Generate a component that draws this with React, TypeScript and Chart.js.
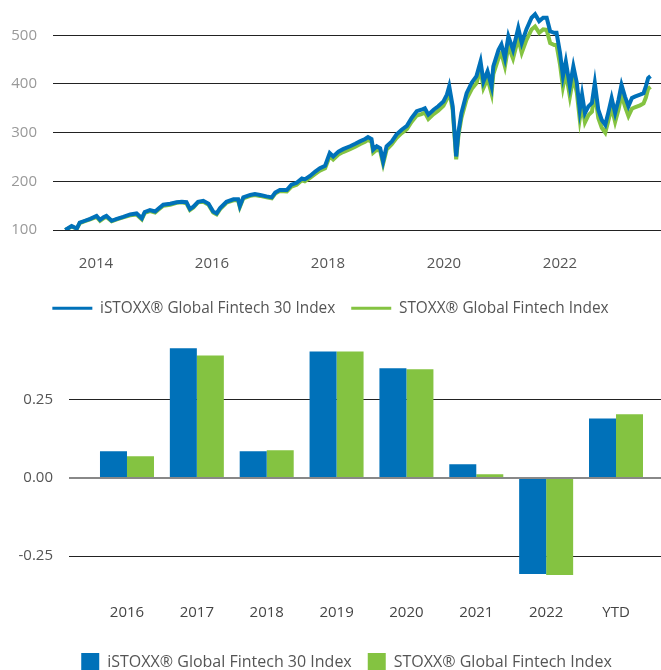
import React, { useEffect, useRef } from "react";
import { Chart, registerables } from "chart.js";

Chart.register(...registerables);

const BLUE = "#0071b9";
const GREEN = "#84c341";
const FONT_FAMILY = "'Open Sans', 'Noto Sans', sans-serif";

const SERIES_A = "iSTOXX® Global Fintech 30 Index";
const SERIES_B = "STOXX® Global Fintech Index";

// ---- Performance line chart (decimal years) ----
const lineDates = [
  2013.47, 2013.58, 2013.67, 2013.72, 2013.81, 2013.9, 2014.01, 2014.07, 2014.13, 2014.18,
  2014.27, 2014.36, 2014.47, 2014.59, 2014.7, 2014.79, 2014.84, 2014.93, 2015.02, 2015.07,
  2015.16, 2015.28, 2015.39, 2015.48, 2015.56, 2015.62, 2015.68, 2015.76, 2015.85, 2015.94,
  2016.02, 2016.08, 2016.14, 2016.25, 2016.37, 2016.45, 2016.48, 2016.54, 2016.66, 2016.74,
  2016.83, 2016.94, 2017.03, 2017.09, 2017.17, 2017.29, 2017.37, 2017.46, 2017.55, 2017.6,
  2017.69, 2017.78, 2017.86, 2017.95, 2018.03, 2018.09, 2018.18, 2018.26, 2018.38, 2018.47,
  2018.55, 2018.64, 2018.69, 2018.75, 2018.78, 2018.84, 2018.9, 2018.95, 2019.01, 2019.1,
  2019.18, 2019.27, 2019.36, 2019.44, 2019.53, 2019.61, 2019.67, 2019.73, 2019.82, 2019.9,
  2019.99, 2020.05, 2020.09, 2020.15, 2020.21, 2020.25, 2020.3, 2020.39, 2020.48, 2020.56,
  2020.63, 2020.68, 2020.75, 2020.82, 2020.85, 2020.94, 2020.99, 2021.05, 2021.11, 2021.19,
  2021.28, 2021.34, 2021.42, 2021.51, 2021.57, 2021.64, 2021.71, 2021.77, 2021.83, 2021.9,
  2021.94, 2022.0, 2022.05, 2022.1, 2022.17, 2022.23, 2022.29, 2022.34, 2022.38, 2022.43,
  2022.49, 2022.55, 2022.6, 2022.66, 2022.72, 2022.78, 2022.83, 2022.89, 2022.95, 2023.01,
  2023.06, 2023.12, 2023.18, 2023.24, 2023.29, 2023.38, 2023.44, 2023.48, 2023.52, 2023.56,
];

const fintech30Line = [
  100, 108, 103, 115, 119, 123, 129, 121, 126, 129,
  119, 123, 127, 132, 134, 124, 137, 141, 138, 143,
  152, 154, 157, 158, 157, 143, 148, 158, 160, 154,
  138, 134, 145, 158, 163, 163, 149, 167, 172, 174,
  172, 169, 167, 177, 182, 182, 193, 197, 206, 204,
  211, 220, 227, 232, 258, 251, 261, 266, 272, 277,
  282, 287, 291, 287, 265, 272, 268, 241, 272, 282,
  296, 306, 314, 330, 344, 347, 350, 337, 347, 354,
  364, 378, 395, 354, 251, 302, 340, 381, 403, 416,
  446, 405, 426, 395, 436, 470, 481, 453, 498, 470,
  515, 484, 512, 536, 543, 529, 536, 536, 508, 505,
  505, 464, 416, 446, 395, 436, 402, 347, 378, 340,
  354, 361, 402, 347, 326, 316, 340, 371, 340, 368,
  398, 374, 354, 371, 374, 378, 381, 395, 412, 416,
];

const fintechLine = [
  100, 107, 103, 114, 118, 122, 127, 119, 124, 127,
  118, 122, 126, 130, 132, 122, 135, 139, 136, 141,
  150, 152, 156, 157, 155, 141, 146, 157, 158, 152,
  136, 132, 143, 156, 161, 161, 147, 165, 170, 172,
  170, 167, 165, 175, 180, 179, 189, 193, 202, 200,
  207, 215, 222, 227, 252, 245, 255, 260, 266, 271,
  276, 281, 285, 281, 259, 265, 262, 236, 265, 276,
  289, 299, 307, 322, 335, 338, 341, 328, 338, 345,
  355, 369, 386, 346, 245, 295, 330, 369, 390, 402,
  430, 392, 411, 380, 420, 453, 463, 436, 478, 452,
  494, 464, 490, 512, 518, 505, 512, 511, 484, 480,
  480, 440, 394, 424, 374, 414, 382, 328, 359, 321,
  336, 343, 383, 330, 310, 300, 323, 352, 322, 348,
  378, 354, 334, 349, 352, 356, 360, 372, 390, 394,
];

const lineYTicks = [100, 200, 300, 400, 500];
const lineXTicks = [2014, 2016, 2018, 2020, 2022];

// ---- Annual returns bar chart ----
const barCategories = ["2016", "2017", "2018", "2019", "2020", "2021", "2022", "YTD"];
const fintech30Bars = [0.085, 0.414, 0.085, 0.404, 0.35, 0.044, -0.307, 0.19];
const fintechBars = [0.069, 0.391, 0.088, 0.404, 0.347, 0.012, -0.31, 0.203];
const barYTicks = [-0.25, 0, 0.25];

const tickFont = { family: FONT_FAMILY, size: 15 };
const lineLegendFont = { family: FONT_FAMILY, size: 15.4 };
const barLegendFont = { family: FONT_FAMILY, size: 16 };

function noBorderLegend(chart: any) {
  return Chart.defaults.plugins.legend.labels
    .generateLabels(chart)
    .map((l: any) => ({ ...l, lineWidth: 0 }));
}

function zeroPad(s: any) {
  s.paddingTop = 0;
  s.paddingBottom = 0;
  s.paddingLeft = 0;
  s.paddingRight = 0;
}

function LineChart() {
  const ref = useRef<HTMLCanvasElement | null>(null);
  useEffect(() => {
    if (!ref.current) return;
    const chart = new Chart(ref.current, {
      type: "line",
      data: {
        datasets: [
          {
            label: SERIES_A,
            data: lineDates.map((t, i) => ({ x: t, y: fintech30Line[i] })),
            borderColor: BLUE,
            backgroundColor: BLUE,
            borderWidth: 4,
            pointRadius: 0,
            tension: 0,
          },
          {
            label: SERIES_B,
            data: lineDates.map((t, i) => ({ x: t, y: fintechLine[i] })),
            borderColor: GREEN,
            backgroundColor: GREEN,
            borderWidth: 4,
            pointRadius: 0,
            tension: 0,
          },
        ],
      },
      options: {
        animation: false,
        responsive: false,
        layout: { padding: { top: 7, right: 0, bottom: 4, left: 0 } },
        scales: {
          x: {
            type: "linear",
            offset: false,
            min: 2013.259,
            max: 2023.741,
            grid: { display: false, drawTicks: false, offset: false },
            border: { display: false },
            afterBuildTicks: (s: any) => {
              s.ticks = lineXTicks.map((v) => ({ value: v }));
            },
            afterFit: (s: any) => {
              s.height = 54.6;
              zeroPad(s);
            },
            ticks: {
              padding: 25,
              font: tickFont,
              color: "#555",
              maxRotation: 0,
              autoSkip: false,
              callback: (v: any) => String(v),
            },
          },
          y: {
            type: "linear",
            min: 100,
            max: 558,
            afterBuildTicks: (s: any) => {
              s.ticks = lineYTicks.map((v) => ({ value: v }));
            },
            afterFit: (s: any) => {
              s.width = 53;
              zeroPad(s);
            },
            grid: { color: "#222", lineWidth: 1, drawTicks: false },
            border: { display: false },
            ticks: { padding: 16, font: tickFont, color: "#999", callback: (v: any) => String(v) },
          },
        },
        plugins: {
          legend: {
            position: "bottom",
            labels: {
              boxWidth: 40,
              boxHeight: 3,
              padding: 16,
              font: lineLegendFont,
              color: "#555",
              generateLabels: noBorderLegend,
            },
          },
          tooltip: { enabled: false },
        },
      },
    });
    return () => chart.destroy();
  }, []);
  return <canvas ref={ref} width={661} height={330} style={{ display: "block" }} />;
}

function BarChart() {
  const ref = useRef<HTMLCanvasElement | null>(null);
  useEffect(() => {
    if (!ref.current) return;
    const chart = new Chart(ref.current, {
      type: "bar",
      data: {
        datasets: [
          {
            label: SERIES_A,
            data: fintech30Bars.map((v, i) => ({ x: i, y: v })),
            backgroundColor: BLUE,
            borderColor: BLUE,
            borderWidth: 0,
            barPercentage: 1,
            categoryPercentage: 0.773,
          },
          {
            label: SERIES_B,
            data: fintechBars.map((v, i) => ({ x: i, y: v })),
            backgroundColor: GREEN,
            borderColor: GREEN,
            borderWidth: 0,
            barPercentage: 1,
            categoryPercentage: 0.773,
          },
        ],
      },
      options: {
        animation: false,
        responsive: false,
        layout: { padding: { top: 7, right: 0, bottom: 1, left: 0 } },
        scales: {
          x: {
            type: "linear",
            offset: false,
            min: -0.83,
            max: 8.102,
            grid: { display: false, drawTicks: false, offset: false },
            border: { display: false },
            afterBuildTicks: (s: any) => {
              s.ticks = barCategories.map((_, i) => ({ value: i }));
            },
            afterFit: (s: any) => {
              s.height = 49.5;
              zeroPad(s);
            },
            ticks: {
              padding: 16,
              font: tickFont,
              color: "#444",
              maxRotation: 0,
              autoSkip: false,
              callback: (v: any) => barCategories[Math.round(v)] ?? "",
            },
          },
          y: {
            type: "linear",
            min: -0.35,
            max: 0.45,
            afterBuildTicks: (s: any) => {
              s.ticks = barYTicks.map((v) => ({ value: v }));
            },
            afterFit: (s: any) => {
              s.width = 69;
              zeroPad(s);
            },
            grid: {
              color: (c: any) => (c.tick && c.tick.value === 0 ? "#888" : "#222"),
              lineWidth: (c: any) => (c.tick && c.tick.value === 0 ? 2 : 1),
              drawTicks: false,
            },
            border: { display: false },
            ticks: {
              padding: 16,
              font: tickFont,
              color: "#555",
              callback: (v: any) => Number(v).toFixed(2),
            },
          },
        },
        plugins: {
          legend: {
            position: "bottom",
            labels: {
              boxWidth: 18,
              boxHeight: 18,
              padding: 16,
              font: barLegendFont,
              color: "#555",
              generateLabels: noBorderLegend,
            },
          },
          tooltip: { enabled: false },
        },
      },
    });
    return () => chart.destroy();
  }, []);
  return <canvas ref={ref} width={693} height={352} style={{ display: "block" }} />;
}

export default function App() {
  return (
    <div style={{ position: "absolute", left: 0, top: 0, width: 661, overflow: "hidden" }}>
      <LineChart />
      <BarChart />
    </div>
  );
}
